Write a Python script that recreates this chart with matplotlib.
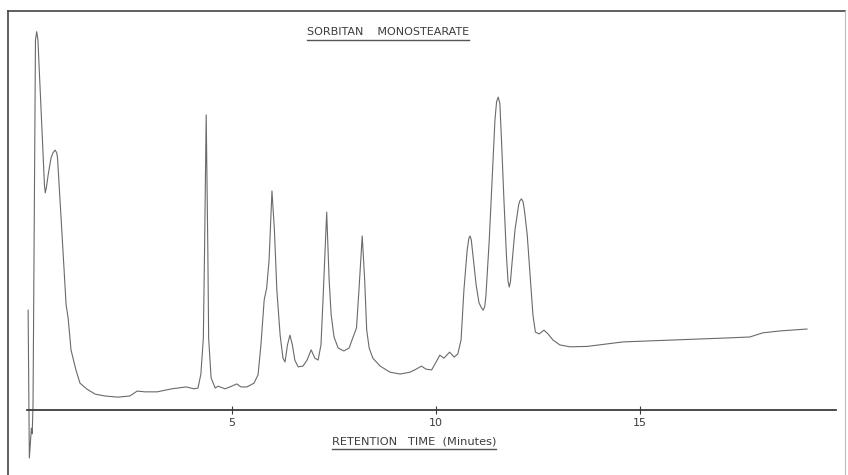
import matplotlib
matplotlib.use("Agg")
from matplotlib import pyplot as plt
from matplotlib.lines import Line2D

# chromatogram trace: retention time (min) vs relative response
time_min = [0.02, 0.05, 0.10, 0.12, 0.14, 0.20, 0.23, 0.26, 0.34, 0.42,
            0.44, 0.47, 0.51, 0.58, 0.63, 0.68, 0.72, 0.74, 0.83, 0.95,
            1.00, 1.07, 1.19, 1.29, 1.45, 1.66, 1.90, 2.22, 2.51, 2.69,
            2.88, 3.18, 3.54, 3.89, 4.08, 4.18, 4.25, 4.31, 4.34, 4.38,
            4.42, 4.44, 4.50, 4.60, 4.67, 4.84, 4.96, 5.13, 5.23, 5.38,
            5.55, 5.65, 5.72, 5.80, 5.86, 5.92, 5.99, 6.05, 6.11, 6.19,
            6.26, 6.31, 6.37, 6.43, 6.49, 6.55, 6.63, 6.75, 6.85, 6.95,
            7.04, 7.12, 7.19, 7.24, 7.33, 7.39, 7.44, 7.51, 7.61, 7.75,
            7.88, 7.95, 8.06, 8.12, 8.20, 8.26, 8.31, 8.37, 8.46, 8.64,
            8.88, 9.13, 9.37, 9.52, 9.65, 9.76, 9.90, 10.01, 10.10, 10.20,
            10.34, 10.45, 10.54, 10.62, 10.69, 10.77, 10.81, 10.84, 10.87, 10.91,
            10.99, 11.06, 11.12, 11.16, 11.20, 11.23, 11.31, 11.38, 11.45, 11.49,
            11.53, 11.57, 11.61, 11.67, 11.73, 11.77, 11.80, 11.83, 11.87, 11.94,
            12.03, 12.06, 12.10, 12.14, 12.17, 12.24, 12.31, 12.38, 12.44, 12.53,
            12.65, 12.75, 12.87, 13.04, 13.29, 13.70, 14.59, 15.81, 17.03, 17.69,
            18.01, 18.43, 19.09]
response = [26.4, -12.7, -4.8, -6.3, 1.3, 97.8, 100.0, 97.8, 78.8, 59.5,
            57.4, 59.0, 62.1, 66.6, 68.0, 68.7, 68.0, 66.6, 50.2, 27.8,
            24.3, 15.9, 10.6, 7.1, 5.6, 4.2, 3.7, 3.4, 3.7, 5.0,
            4.8, 4.8, 5.6, 6.1, 5.6, 5.8, 9.5, 19.0, 42.3, 78.0,
            42.3, 19.0, 8.5, 5.8, 6.3, 5.6, 6.1, 6.9, 6.1, 6.1,
            7.1, 9.3, 17.2, 29.1, 32.2, 39.7, 57.9, 47.6, 31.7, 19.8,
            13.7, 12.7, 17.2, 19.8, 17.2, 13.2, 11.4, 11.6, 13.2, 15.9,
            13.7, 13.2, 17.2, 29.1, 52.3, 34.4, 25.1, 19.3, 16.4, 15.6,
            16.4, 18.5, 21.7, 31.7, 46.0, 34.4, 21.1, 16.4, 13.7, 11.6,
            10.0, 9.5, 10.0, 10.8, 11.6, 10.8, 10.6, 12.7, 14.5, 13.7,
            15.3, 14.0, 14.8, 18.5, 31.7, 42.3, 45.3, 46.0, 45.0, 41.0,
            33.0, 28.3, 27.0, 26.4, 27.3, 30.4, 44.9, 60.8, 76.7, 81.5,
            82.7, 81.0, 71.4, 55.5, 41.0, 34.0, 32.5, 34.0, 39.1, 47.6,
            54.2, 55.3, 55.8, 55.0, 52.9, 46.3, 35.7, 25.1, 20.6, 20.1,
            21.1, 20.1, 18.5, 17.2, 16.7, 16.8, 18.0, 18.5, 19.0, 19.3,
            20.4, 20.9, 21.4]

tick_pos = [5, 10, 15]
tick_labels = ["5", "10", "15"]

title = "SORBITAN    MONOSTEARATE"
xlabel = "RETENTION   TIME  (Minutes)"

ink = "#3c3c3c"
W, H = 848, 475

fig = plt.figure(figsize=(W / 100, H / 100), dpi=100)
fig.patch.set_facecolor("white")

ax = fig.add_axes([27.3 / W, 5 / H, 808.7 / W, 458 / H])
ax.plot(time_min, response, color="#6a6a6a", lw=0.8)
ax.set_xlim(0, 19.8)
ax.set_ylim(-15.86, 105.2)

for s in ["top", "right", "left"]:
    ax.spines[s].set_visible(False)
ax.spines["bottom"].set_position(("data", 0))
ax.spines["bottom"].set_color(ink)
ax.spines["bottom"].set_linewidth(1.3)
ax.set_yticks([])
ax.set_xticks(tick_pos)
ax.set_xticklabels(tick_labels)
ax.tick_params(axis="x", direction="inout", length=6, width=0.8, color=ink,
               labelsize=8, labelcolor=ink, pad=3)
ax.patch.set_alpha(0)

# page frame of the scanned sheet
fig.add_artist(Line2D([8 / W, 845 / W], [1 - 11 / H, 1 - 11 / H], color="#444", lw=1.2))
fig.add_artist(Line2D([8 / W, 8 / W], [1 - 11 / H, 0], color="#444", lw=1.2))
fig.add_artist(Line2D([845 / W, 845 / W], [1 - 11 / H, 0], color="#bbb", lw=0.8))

t1 = fig.text(388 / W, 1 - 32 / H, title, ha="center", va="center",
              fontsize=8, color=ink)
t2 = fig.text(414 / W, 1 - 441 / H, xlabel, ha="center", va="center",
              fontsize=8.2, color=ink)

# underline both texts
fig.canvas.draw()
for t in (t1, t2):
    bb = t.get_window_extent()
    y = (bb.y0 - 3) / H
    fig.add_artist(Line2D([bb.x0 / W, bb.x1 / W], [y, y], color="#555", lw=1.0))

fig.savefig("out.png", dpi=100)
